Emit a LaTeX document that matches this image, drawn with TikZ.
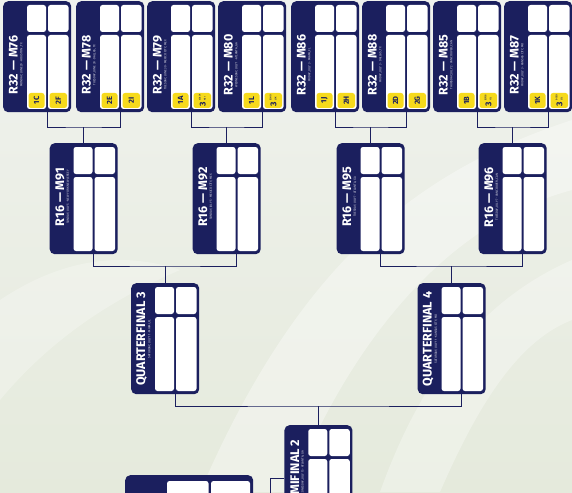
\documentclass[tikz,border=0pt]{standalone}
\usepackage{fontspec}
\setmainfont{Fira Sans}
\usetikzlibrary{calc}
\definecolor{navy}{HTML}{1B1F5E}
\definecolor{tagyellow}{HTML}{F6DA1C}
\definecolor{bgtop}{HTML}{F0F2EE}
\definecolor{bgbot}{HTML}{E5EADC}
\newcommand{\thirdtag}[2]{{\fontsize{8.5}{8.5}\selectfont 3}\,{\fontsize{2.2}{2.4}\selectfont\shortstack[l]{#1\\#2}}}
\tikzset{
  x=1pt, y=-1pt,
  outerbox/.style={fill=navy, rounded corners=5pt, inner sep=0pt, anchor=north west},
  cellfill/.style={fill=white, rounded corners=2.5pt},
  tagfill/.style={fill=tagyellow, rounded corners=2.5pt},
  link/.style={draw=navy, line width=0.8pt},
  titletext/.style={text=white, font=\fontsize{12.5}{12.5}\selectfont\bfseries, rotate=90, inner sep=0pt},
  subtext/.style={text=white!85!navy, font=\fontsize{3}{3}\selectfont, rotate=90, inner sep=0pt},
  tagtext/.style={text=navy, font=\fontsize{7.5}{7.5}\selectfont\bfseries, rotate=90, inner sep=0pt},
  pics/matchbox/.style n args={5}{code={
    \node[outerbox, minimum width=68pt, minimum height=111pt] (-box) at (0,0) {};
    \path[cellfill] (24,4) rectangle (43,31);
    \path[cellfill] (45,4) rectangle (65.5,31);
    \path[cellfill] (24,34) rectangle (43,108);
    \path[cellfill] (45,34) rectangle (65.5,108);
    \node[titletext] (-title) at (10.5,#3) {#1};
    \node[subtext] (-sub) at (18.5,#3) {#2};
    \if\relax\detokenize{#4}\relax\else
      \path[tagfill] (25.5,92) rectangle (41.5,107);
      \path[tagfill] (46.5,92) rectangle (64,107);
      \node[tagtext] (-t1) at (33.5,99.5) {#4};
      \node[tagtext] (-t2) at (55.25,99.5) {#5};
    \fi
    \coordinate (-out) at (44,111);
    \coordinate (-in) at (34,0);
  }},
}
\begin{document}
\begin{tikzpicture}
\useasboundingbox (0,0) rectangle (572,492);
\clip (0,0) rectangle (572,492);
% background
\shade[top color=bgtop, bottom color=bgbot] (0,0) rectangle (572,492);
\fill[white, opacity=0.35] (572,120) .. controls (420,170) and (300,260) .. (200,492) -- (290,492) .. controls (360,320) and (460,220) .. (572,190) -- cycle;
\fill[white, opacity=0.3] (572,260) .. controls (480,300) and (420,380) .. (380,492) -- (440,492) .. controls (480,400) and (520,340) .. (572,320) -- cycle;
\fill[white, opacity=0.25] (0,300) .. controls (60,260) and (120,250) .. (180,270) .. controls (110,300) and (50,340) .. (0,400) -- cycle;

% Round of 32
\pic (m76) at (3,1)   {matchbox={R32 --- M76}{MONDAY, JUNE 29 · HOUSTON, TX}{64}{1C}{2F}};
\pic (m78) at (76,1)  {matchbox={R32 --- M78}{TUESDAY, JUNE 30 · DALLAS, TX}{64}{2E}{2I}};
\pic (m79) at (147,1) {matchbox={R32 --- M79}{TUESDAY, JUNE 30 · MEXICO CITY, MEX}{64}{1A}{\thirdtag{C/E/F}{H/I}}};
\pic (m80) at (218,1) {matchbox={R32 --- M80}{WEDNESDAY, JULY 1 · ATLANTA, GA}{64}{1L}{\thirdtag{E/H/I}{J/K}}};
\pic (m86) at (291,1) {matchbox={R32 --- M86}{FRIDAY, JULY 3 · MIAMI, FL}{64}{1J}{2H}};
\pic (m88) at (362,1) {matchbox={R32 --- M88}{FRIDAY, JULY 3 · DALLAS, TX}{64}{2D}{2G}};
\pic (m85) at (433,1) {matchbox={R32 --- M85}{THURSDAY, JULY 2 · VANCOUVER, CAN}{64}{1B}{\thirdtag{E/F/G}{I/J}}};
\pic (m87) at (504,1) {matchbox={R32 --- M87}{FRIDAY, JULY 3 · KANSAS CITY, MO}{64}{1K}{\thirdtag{D/E/I}{J/L}}};

% Round of 16
\pic (m91) at (49.5,143)  {matchbox={R16 --- M91}{SUNDAY, JULY 5 · NEW YORK NEW JERSEY}{54}{}{}};
\pic (m92) at (192.5,143) {matchbox={R16 --- M92}{SUNDAY, JULY 5 · MEXICO CITY, MEX}{54}{}{}};
\pic (m95) at (336.5,143) {matchbox={R16 --- M95}{TUESDAY, JULY 7 · ATLANTA, GA}{54}{}{}};
\pic (m96) at (478.5,143) {matchbox={R16 --- M96}{TUESDAY, JULY 7 · VANCOUVER, CAN}{54}{}{}};

% Quarterfinals
\pic (qf3) at (131,283)   {matchbox={QUARTERFINAL 3}{SATURDAY, JULY 11 · MIAMI, FL}{56}{}{}};
\pic (qf4) at (417.5,283) {matchbox={QUARTERFINAL 4}{SATURDAY, JULY 11 · KANSAS CITY, MO}{56}{}{}};

% Semifinal 2
\pic (sf2) at (284.25,425) {matchbox={SEMIFINAL 2}{WEDNESDAY, JULY 15 · ATLANTA, GA}{49}{}{}};

% Bottom-left box (partly visible)
\node[outerbox, minimum width=128pt, minimum height=60pt] (fin) at (125,475) {};
\path[cellfill] (167,481) rectangle (208.5,530);
\path[cellfill] (211,481) rectangle (250,530);

% Junctions
\coordinate (j91) at (83.5,127);
\coordinate (j92) at (226.5,127);
\coordinate (j95) at (370.5,127);
\coordinate (j96) at (512.5,127);
\coordinate (jq3) at (165,266);
\coordinate (jq4) at (451.5,266);
\coordinate (js2) at (318.25,406);
\coordinate (sfside) at (284.25,478);
\coordinate (sfcorner) at (270,478);
\coordinate (sfend) at (270,500);

% Connectors
\draw[link] (m76-out) |- (j91) -| (m78-out);
\draw[link] (j91) -- (m91-in);
\draw[link] (m79-out) |- (j92) -| (m80-out);
\draw[link] (j92) -- (m92-in);
\draw[link] (m86-out) |- (j95) -| (m88-out);
\draw[link] (j95) -- (m95-in);
\draw[link] (m85-out) |- (j96) -| (m87-out);
\draw[link] (j96) -- (m96-in);
\draw[link] (m91-out) |- (jq3) -| (m92-out);
\draw[link] (jq3) -- (qf3-in);
\draw[link] (m95-out) |- (jq4) -| (m96-out);
\draw[link] (jq4) -- (qf4-in);
\draw[link] (qf3-out) |- (js2) -| (qf4-out);
\draw[link] (js2) -- (sf2-in);
\draw[link] (sfside) -- (sfcorner) -- (sfend);
\end{tikzpicture}
\end{document}
